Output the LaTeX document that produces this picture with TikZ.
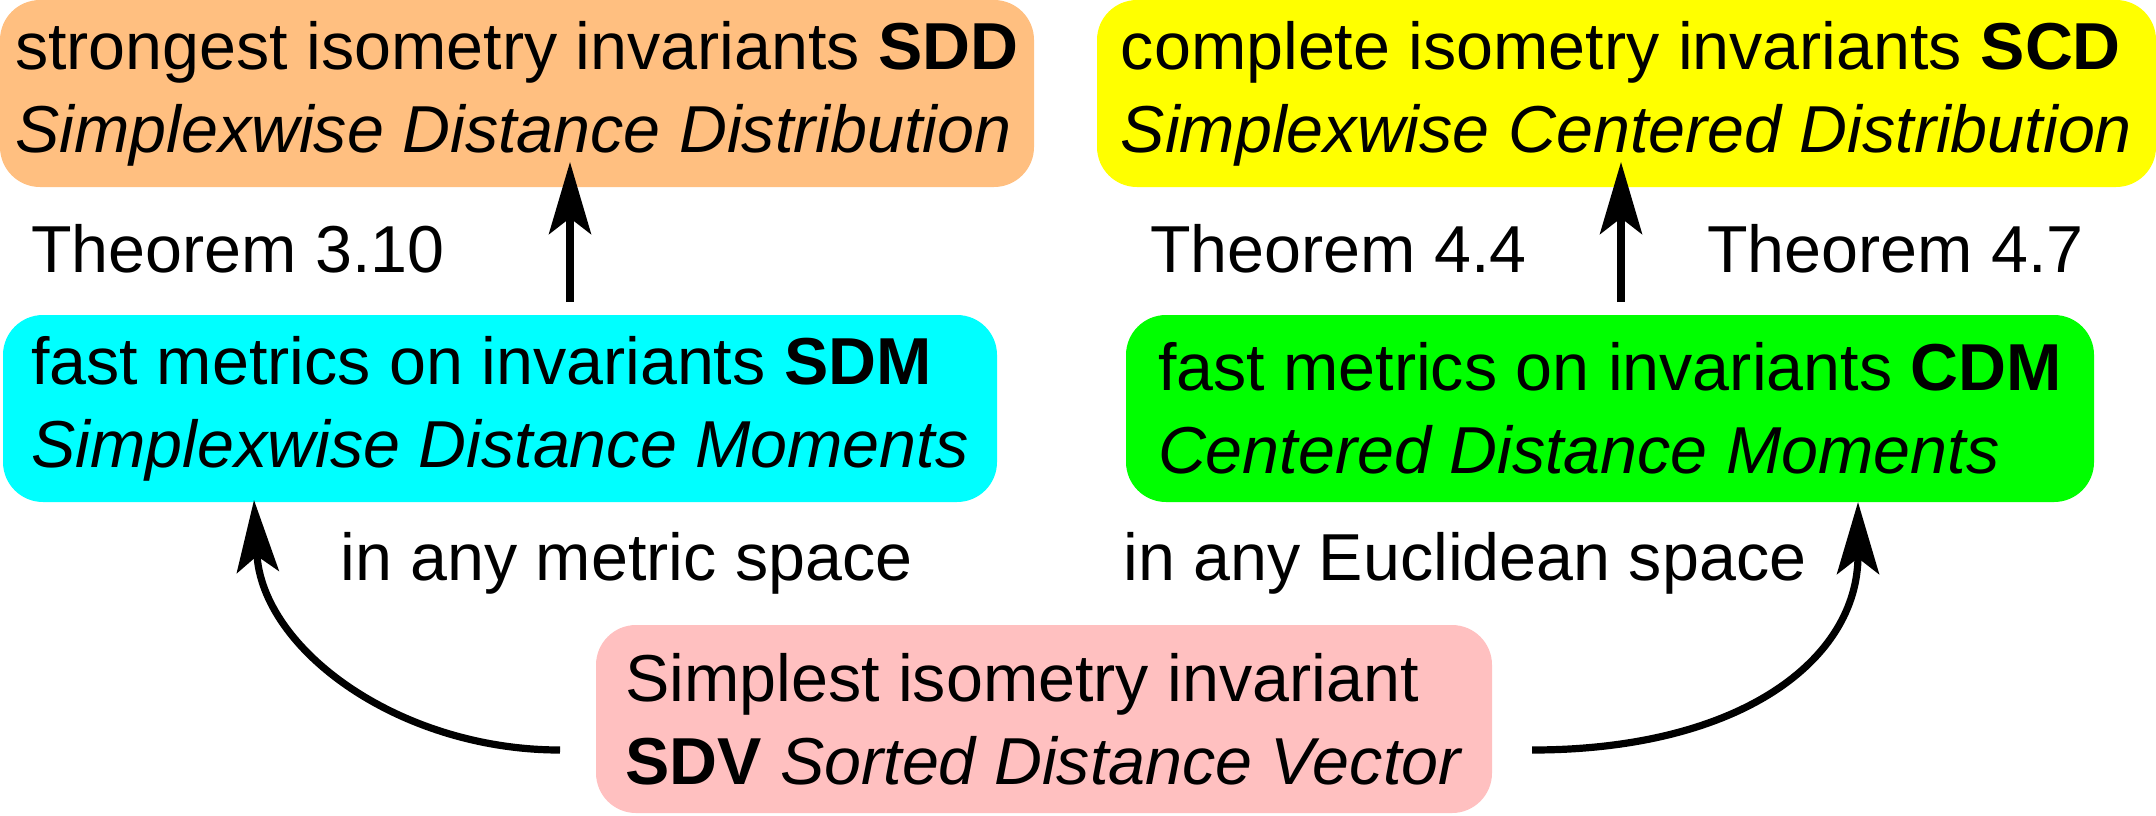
\documentclass[tikz,border=0pt]{standalone}
\usepackage{fontspec}
\setmainfont{Liberation Sans}
\usetikzlibrary{arrows.meta}
\definecolor{cOrange}{HTML}{FFBF80}
\definecolor{cYellow}{HTML}{FFFF00}
\definecolor{cCyan}{HTML}{00FFFF}
\definecolor{cGreen}{HTML}{00FF00}
\definecolor{cPink}{HTML}{FFC0C0}
\tikzset{
  box/.style={rectangle, rounded corners=20pt, inner sep=0pt, align=left,
    font=\fontsize{33.2}{41.5}\selectfont},
  lbl/.style={anchor=base west, inner sep=0pt, font=\fontsize{33.2}{41.5}\selectfont},
  arr/.style={line width=3.6pt, -{Stealth[length=36pt, width=21pt, inset=8pt]}},
}
\begin{document}
\begin{tikzpicture}[x=0.5pt,y=-0.5pt]
\useasboundingbox (0,0) rectangle (2156,815);
\node[box, fill=cOrange, minimum width=517pt, minimum height=93.5pt] (sdd) at (517,93.5)
  {strongest isometry invariants \textbf{SDD}\\\textit{Simplexwise Distance Distribution}};
\node[box, fill=cYellow, minimum width=529.5pt, minimum height=93.5pt] (scd) at (1626.5,93.5)
  {complete isometry invariants \textbf{SCD}\\\textit{Simplexwise Centered Distribution}};
\node[box, fill=cCyan, minimum width=497pt, minimum height=93.5pt] (sdm) at (500,408.5)
  {fast metrics on invariants \textbf{SDM}\\\textit{Simplexwise Distance Moments}};
\node[box, fill=cGreen, minimum width=484pt, minimum height=93.5pt] (cdm) at (1610,408.5)
  {fast metrics on invariants \textbf{CDM}\\\textit{Centered Distance Moments}};
\node[box, fill=cPink, minimum width=448pt, minimum height=94pt] (sdv) at (1044,719)
  {Simplest isometry invariant\\\textbf{SDV} \textit{Sorted Distance Vector}};
\node[lbl] (t310) at (31,272) {Theorem 3.10};
\node[lbl] (t44) at (1150,272) {Theorem 4.4};
\node[lbl] (t47) at (1707,272) {Theorem 4.7};
\node[lbl] (lmet) at (340,580) {in any metric space};
\node[lbl] (leuc) at (1123,580) {in any Euclidean space};
\coordinate (a1s) at (570,302);
\coordinate (a1e) at (570,162);
\coordinate (a2s) at (1621,302);
\coordinate (a2e) at (1621,162);
\coordinate (c1s) at (560,750);
\coordinate (c1e) at (254,500);
\coordinate (c2s) at (1532,750);
\coordinate (c2e) at (1858,502);
\draw[arr] (a1s) -- (a1e);
\draw[arr] (a2s) -- (a2e);
\draw[arr] (c1s) .. controls (400,750) and (262,650) .. (c1e);
\draw[arr] (c2s) .. controls (1740,750) and (1858,660) .. (c2e);
\end{tikzpicture}
\end{document}
